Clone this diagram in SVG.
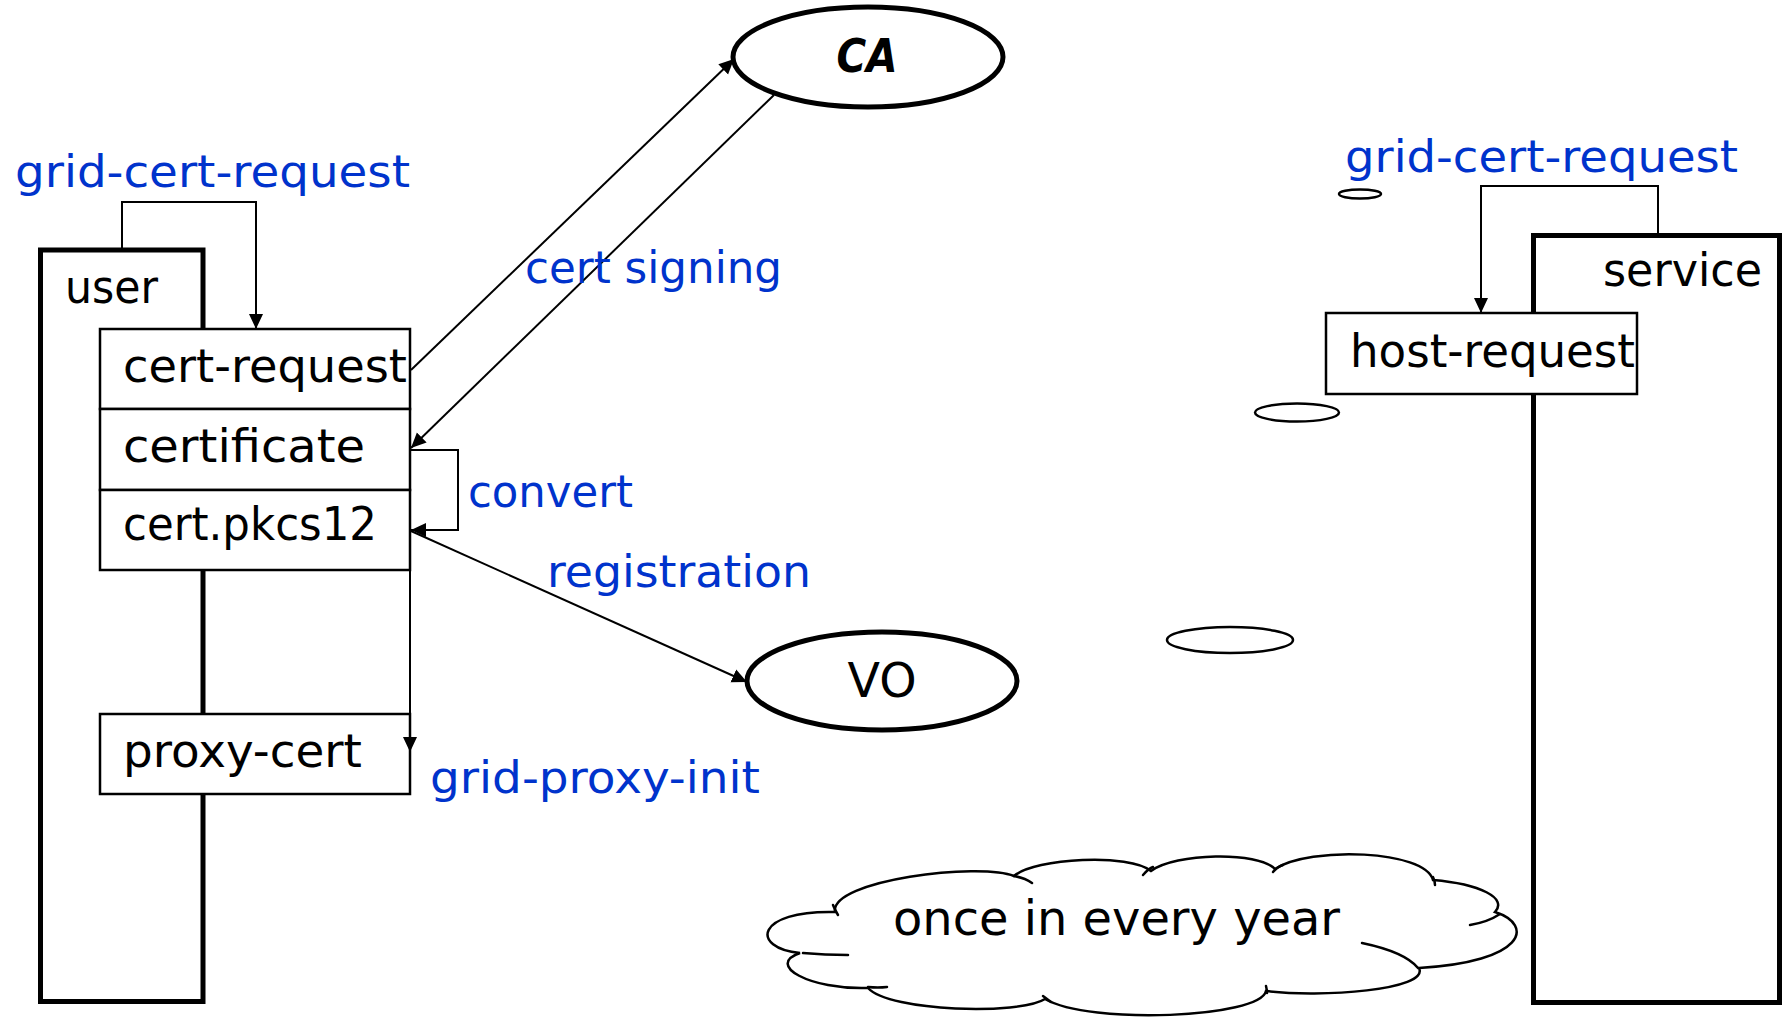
<svg xmlns="http://www.w3.org/2000/svg" width="1782" height="1019" viewBox="0 0 1782 1019">
<defs>
<marker id="ah" markerUnits="userSpaceOnUse" markerWidth="16" markerHeight="16" refX="15" refY="8" orient="auto">
<path d="M0,1 L15,8 L0,15 z" fill="#000"/>
</marker>
<style>
.t{font-family:"DejaVu Sans",sans-serif;fill:#000;}
.b{font-family:"DejaVu Sans",sans-serif;fill:#0033cc;}
.box{fill:#fff;stroke:#000;stroke-width:2.5;}
.thick{fill:#fff;stroke:#000;stroke-width:5;}
.con{fill:none;stroke:#000;stroke-width:2;}
.cl{fill:none;stroke:#000;stroke-width:2.5;stroke-linecap:round;}
</style>
</defs>
<rect width="1782" height="1019" fill="#fff"/>

<g id="user">
<rect class="thick" x="40.5" y="250" width="162.5" height="751.5"/>
<text class="t" x="65" y="303" font-size="46" textLength="93" lengthAdjust="spacingAndGlyphs">user</text>
</g>
<g id="service">
<rect class="thick" x="1533.5" y="235.5" width="246" height="767"/>
<text class="t" x="1603" y="286" font-size="46" textLength="159" lengthAdjust="spacingAndGlyphs">service</text>
</g>

<g id="connectors">
<path class="con" d="M122,250 V202 H256 V329" marker-end="url(#ah)"/>
<path class="con" d="M411,370 L734,59" marker-end="url(#ah)"/>
<path class="con" d="M774,95 L411,448" marker-end="url(#ah)"/>
<path class="con" d="M411,450 H458 V530 H411" marker-end="url(#ah)"/>
<path class="con" d="M411,531 L747,682" marker-end="url(#ah)"/>
<path class="con" d="M1658,234 V186 H1481 V313" marker-end="url(#ah)"/>
</g>

<g id="cert-request">
<rect class="box" x="100" y="329" width="310" height="80"/>
<text class="t" x="123" y="382" font-size="46" textLength="284" lengthAdjust="spacingAndGlyphs">cert-request</text>
</g>
<g id="certificate">
<rect class="box" x="100" y="409" width="310" height="81"/>
<text class="t" x="123" y="462" font-size="46" textLength="242" lengthAdjust="spacingAndGlyphs">certificate</text>
</g>
<g id="cert-pkcs12">
<rect class="box" x="100" y="490" width="310" height="80"/>
<text class="t" x="123" y="540" font-size="46" textLength="254" lengthAdjust="spacingAndGlyphs">cert.pkcs12</text>
</g>
<g id="proxy-cert">
<rect class="box" x="100" y="714" width="310" height="80"/>
<text class="t" x="123" y="767" font-size="46" textLength="239" lengthAdjust="spacingAndGlyphs">proxy-cert</text>
</g>
<g id="connector-proxy">
<path class="con" d="M410,570 V752" marker-end="url(#ah)"/>
</g>
<g id="host-request">
<rect class="box" x="1326" y="313" width="311" height="81"/>
<text class="t" x="1350" y="367" font-size="46" textLength="285" lengthAdjust="spacingAndGlyphs">host-request</text>
</g>

<g id="CA">
<ellipse cx="868" cy="57" rx="135" ry="50" fill="#fff" stroke="#000" stroke-width="5"/>
<text class="t" x="867" y="72" font-size="46" font-weight="bold" font-style="italic" text-anchor="middle" textLength="61" lengthAdjust="spacingAndGlyphs">CA</text>
</g>
<g id="VO">
<ellipse cx="882" cy="681" rx="135" ry="49" fill="#fff" stroke="#000" stroke-width="5"/>
<text class="t" x="882" y="697" font-size="48" text-anchor="middle" textLength="69" lengthAdjust="spacingAndGlyphs">VO</text>
</g>

<g id="labels">
<text class="b" x="15" y="187" font-size="44" textLength="395" lengthAdjust="spacingAndGlyphs">grid-cert-request</text>
<text class="b" x="1345" y="172" font-size="44" textLength="393" lengthAdjust="spacingAndGlyphs">grid-cert-request</text>
<text class="b" x="525" y="283" font-size="44" textLength="257" lengthAdjust="spacingAndGlyphs">cert signing</text>
<text class="b" x="468" y="507" font-size="44" textLength="165" lengthAdjust="spacingAndGlyphs">convert</text>
<text class="b" x="547" y="587" font-size="44" textLength="264" lengthAdjust="spacingAndGlyphs">registration</text>
<text class="b" x="430" y="793" font-size="44" textLength="330" lengthAdjust="spacingAndGlyphs">grid-proxy-init</text>
</g>

<g id="small-ellipses">
<ellipse cx="1360" cy="194" rx="21" ry="4.5" fill="none" stroke="#000" stroke-width="2.5"/>
<ellipse cx="1297" cy="412.5" rx="42" ry="9" fill="none" stroke="#000" stroke-width="2.5"/>
<ellipse cx="1230" cy="640" rx="63" ry="13" fill="none" stroke="#000" stroke-width="2.5"/>
</g>

<g id="cloud">
<path class="cl" fill="#fff" d="M835,912 C830,880 980,862 1014,876 C1035,858 1130,853 1151,871 C1175,853 1258,851 1275,869 C1310,846 1425,850 1433,880 C1480,884 1508,898 1495,912 C1535,925 1525,962 1419,968 C1430,990 1320,998 1266,991 C1260,1018 1090,1025 1045,999 C1020,1015 890,1012 868,988 C810,990 765,965 800,953 C750,948 755,910 835,912 Z"/>
<path class="cl" d="M1014,876 Q1025,878 1032,883"/>
<path class="cl" d="M1143,875 Q1148,869 1153,867"/>
<path class="cl" d="M1273,872 Q1277,867 1283,865"/>
<path class="cl" d="M1433,877 Q1435,881 1435,885"/>
<path class="cl" d="M1470,925 Q1488,922 1500,914"/>
<path class="cl" d="M1362,943 Q1405,952 1418,968"/>
<path class="cl" d="M1266,986 Q1267,990 1267,993"/>
<path class="cl" d="M1043,996 Q1047,999 1051,1002"/>
<path class="cl" d="M868,987 Q878,988 887,987"/>
<path class="cl" d="M803,953 Q825,955 848,955"/>
<path class="cl" d="M833,905 Q835,910 838,915"/>
<text class="t" x="893" y="935" font-size="48" textLength="447" lengthAdjust="spacingAndGlyphs">once in every year</text>
</g>
</svg>
